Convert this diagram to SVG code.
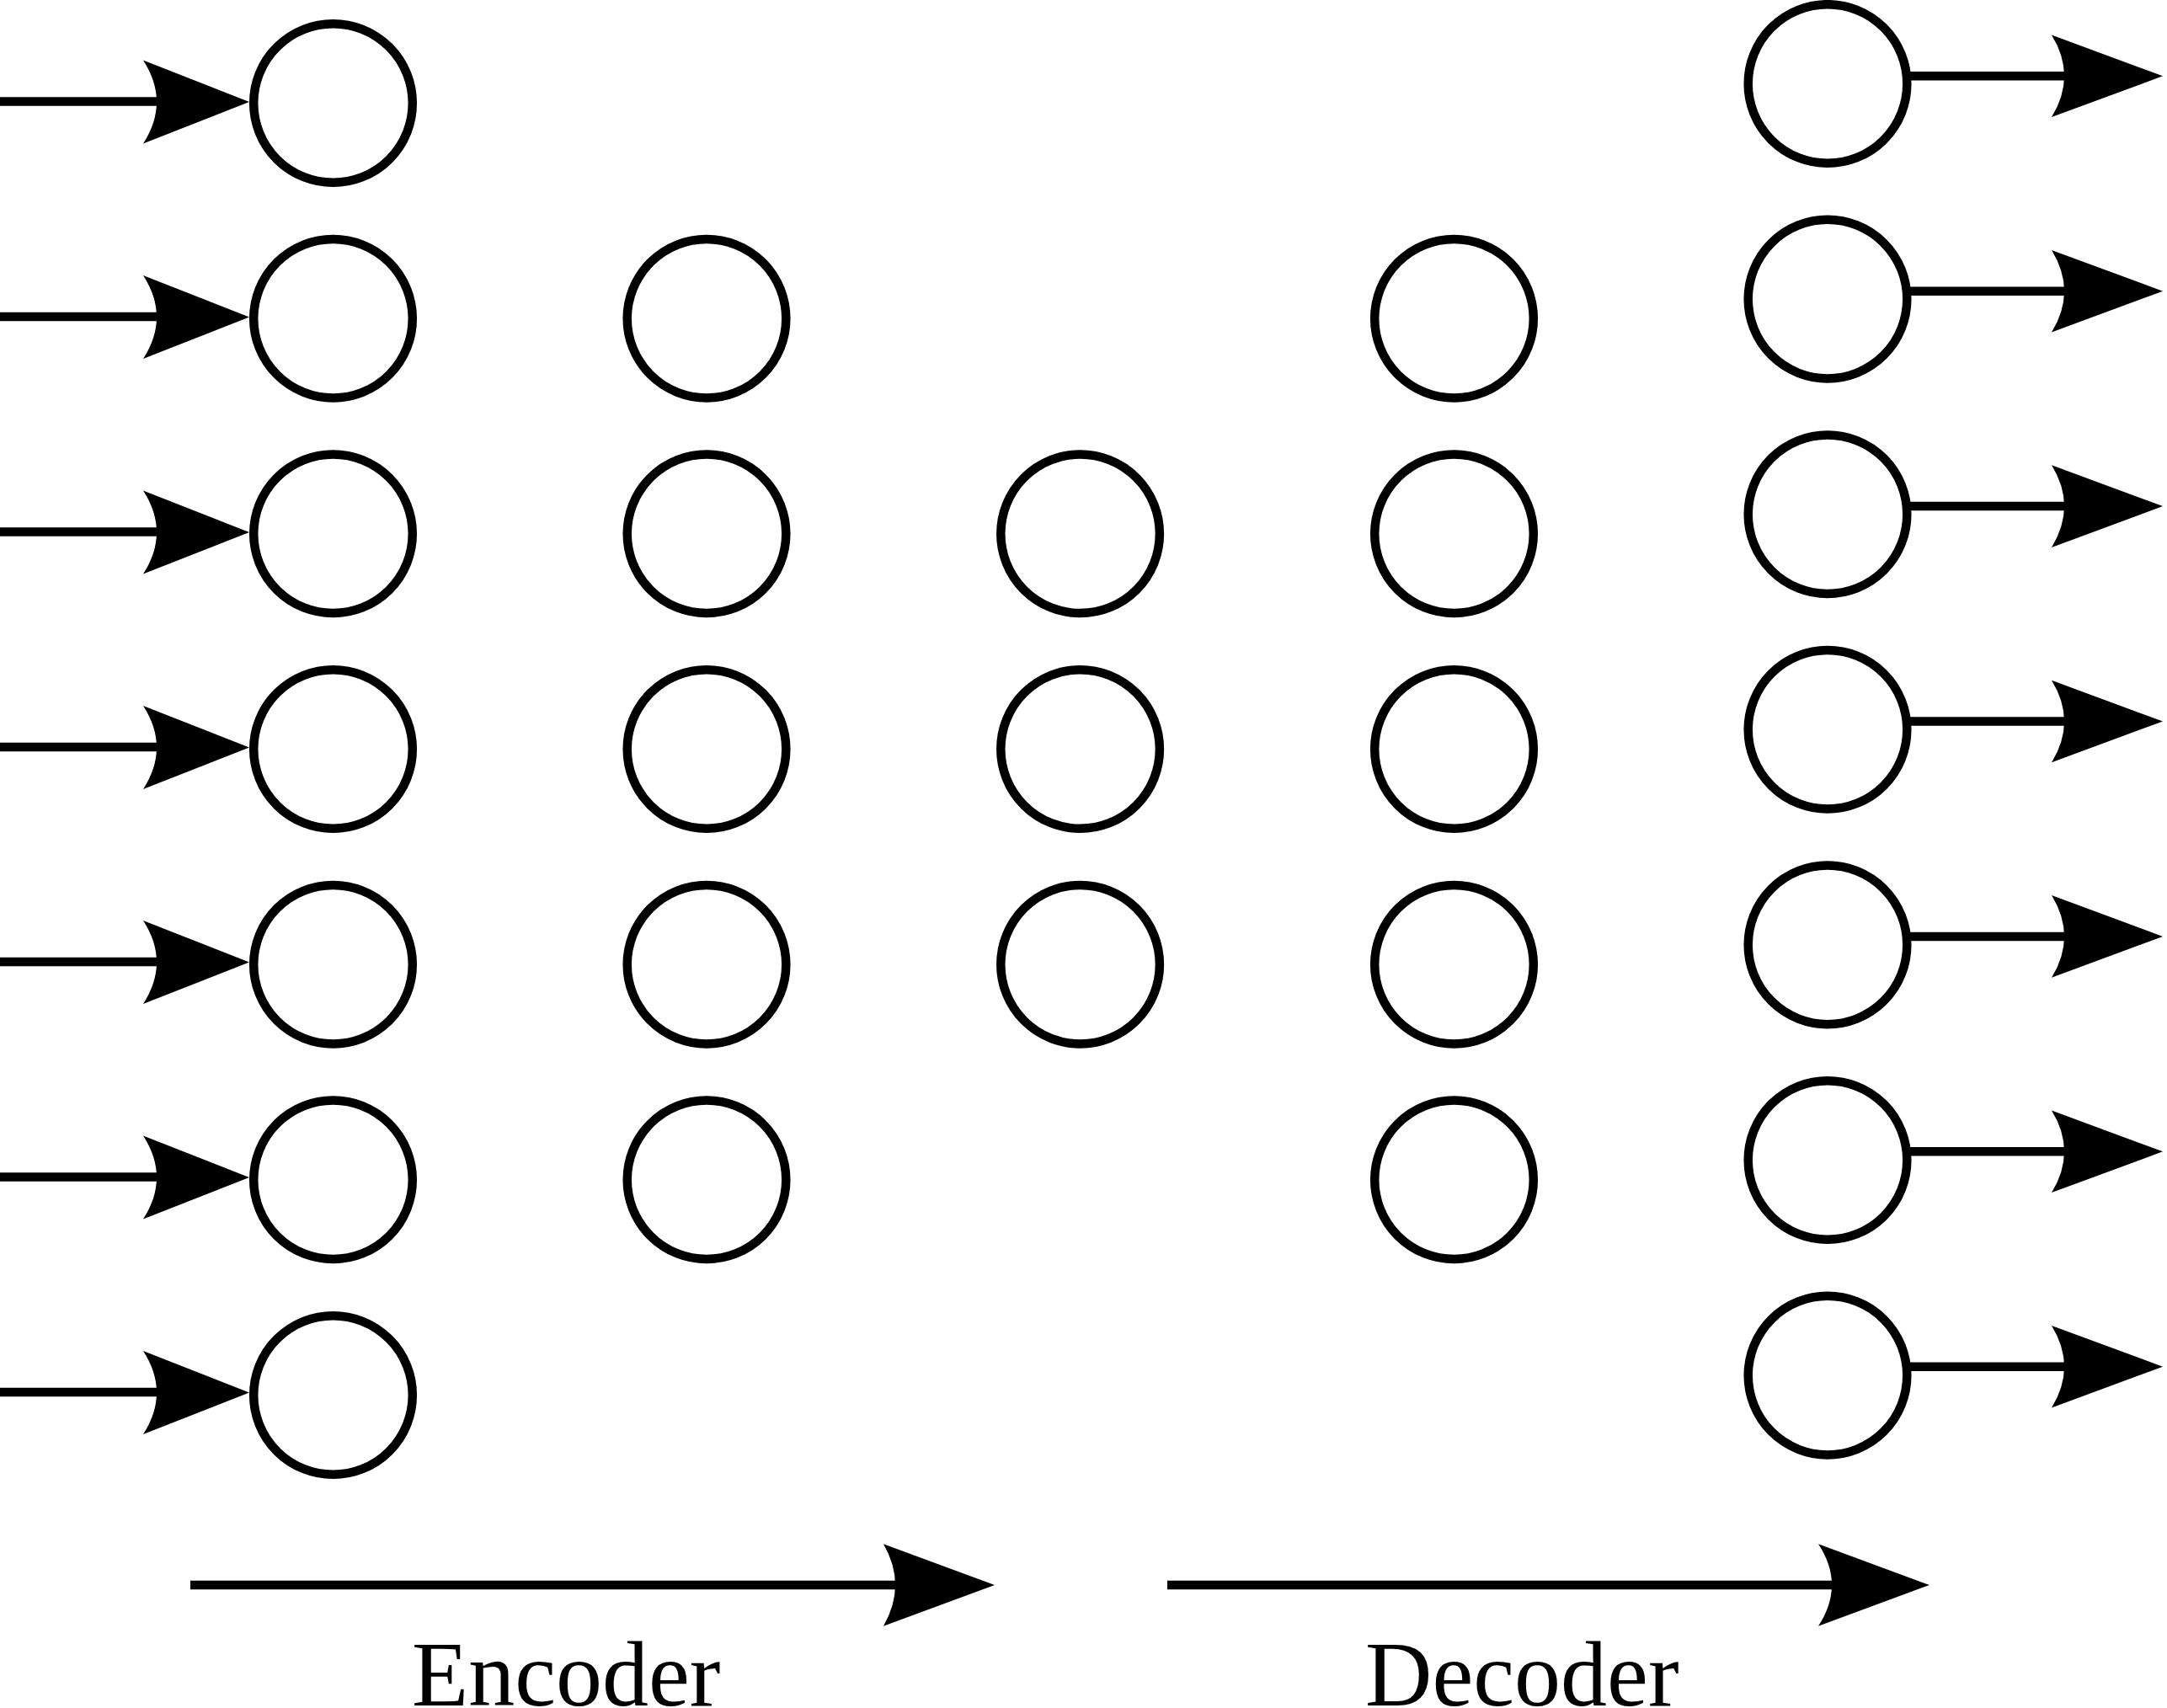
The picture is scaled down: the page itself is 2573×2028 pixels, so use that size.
<svg xmlns="http://www.w3.org/2000/svg" width="2573" height="2028" viewBox="0 0 2573 2028">
<style>
.n{fill:#fff;stroke:#000;stroke-width:10.5}
.l{stroke:#000;stroke-width:10.5;fill:none}
.h{fill:#000;stroke:none}
.t{font-family:"Liberation Serif","Times New Roman",serif;font-size:110px;fill:#000}
</style>
<rect width="2573" height="2028" fill="#fff"/>
<g id="connectors">
<g id="inputs">
<line class="l" x1="0" y1="120.5" x2="188" y2="120.5"/><path class="h" d="M296 121 L170 71.5 Q202 121 170 170.5 Z"/>
<line class="l" x1="0" y1="376" x2="188" y2="376"/><path class="h" d="M296 376.5 L170 327 Q202 376.5 170 426 Z"/>
<line class="l" x1="0" y1="631.5" x2="188" y2="631.5"/><path class="h" d="M296 632 L170 582.5 Q202 632 170 681.5 Z"/>
<line class="l" x1="0" y1="887" x2="188" y2="887"/><path class="h" d="M296 887.5 L170 838 Q202 887.5 170 937 Z"/>
<line class="l" x1="0" y1="1142" x2="188" y2="1142"/><path class="h" d="M296 1142.5 L170 1093 Q202 1142.5 170 1192 Z"/>
<line class="l" x1="0" y1="1397.5" x2="188" y2="1397.5"/><path class="h" d="M296 1398 L170 1348.5 Q202 1398 170 1447.5 Z"/>
<line class="l" x1="0" y1="1653" x2="188" y2="1653"/><path class="h" d="M296 1653.5 L170 1604 Q202 1653.5 170 1703 Z"/>
</g>
<g id="outputs">
<line class="l" x1="2266" y1="90.3" x2="2453" y2="90.3"/><path class="h" d="M2568 90.3 L2436 41.5 Q2466 90.3 2436 139 Z"/>
<line class="l" x1="2266" y1="345.7" x2="2453" y2="345.7"/><path class="h" d="M2568 345.7 L2436 297 Q2466 345.7 2436 394.5 Z"/>
<line class="l" x1="2266" y1="601.1" x2="2453" y2="601.1"/><path class="h" d="M2568 601.1 L2436 552.3 Q2466 601.1 2436 649.9 Z"/>
<line class="l" x1="2266" y1="856.5" x2="2453" y2="856.5"/><path class="h" d="M2568 856.5 L2436 807.7 Q2466 856.5 2436 905.3 Z"/>
<line class="l" x1="2266" y1="1111.9" x2="2453" y2="1111.9"/><path class="h" d="M2568 1111.9 L2436 1063.1 Q2466 1111.9 2436 1160.7 Z"/>
<line class="l" x1="2266" y1="1367.3" x2="2453" y2="1367.3"/><path class="h" d="M2568 1367.3 L2436 1318.5 Q2466 1367.3 2436 1416.1 Z"/>
<line class="l" x1="2266" y1="1622.7" x2="2453" y2="1622.7"/><path class="h" d="M2568 1622.7 L2436 1573.9 Q2466 1622.7 2436 1671.5 Z"/>
</g>
<g id="encoder-arrow">
<line class="l" x1="226" y1="1882" x2="1066" y2="1882"/><path class="h" d="M1181 1882 L1049 1833.3 Q1077 1882 1049 1930.7 Z"/>
</g>
<g id="decoder-arrow">
<line class="l" x1="1386" y1="1882" x2="2178" y2="1882"/><path class="h" d="M2291 1882 L2159 1833.3 Q2191 1882 2159 1930.7 Z"/>
</g>
</g>
<g id="layer1">
<g id="n1-1"><circle class="n" cx="395.5" cy="122.5" r="94.3"/></g>
<g id="n1-2"><circle class="n" cx="395.5" cy="378.2" r="94.3"/></g>
<g id="n1-3"><circle class="n" cx="395.5" cy="633.8" r="94.3"/></g>
<g id="n1-4"><circle class="n" cx="395.5" cy="889.5" r="94.3"/></g>
<g id="n1-5"><circle class="n" cx="395.5" cy="1145.2" r="94.3"/></g>
<g id="n1-6"><circle class="n" cx="395.5" cy="1400.8" r="94.3"/></g>
<g id="n1-7"><circle class="n" cx="395.5" cy="1656.5" r="94.3"/></g>
</g>
<g id="layer2">
<g id="n2-1"><circle class="n" cx="839" cy="378.2" r="94.3"/></g>
<g id="n2-2"><circle class="n" cx="839" cy="633.8" r="94.3"/></g>
<g id="n2-3"><circle class="n" cx="839" cy="889.5" r="94.3"/></g>
<g id="n2-4"><circle class="n" cx="839" cy="1145.2" r="94.3"/></g>
<g id="n2-5"><circle class="n" cx="839" cy="1400.8" r="94.3"/></g>
</g>
<g id="layer3">
<g id="n3-1"><circle class="n" cx="1282.6" cy="633.8" r="94.3"/></g>
<g id="n3-2"><circle class="n" cx="1282.6" cy="889.5" r="94.3"/></g>
<g id="n3-3"><circle class="n" cx="1282.6" cy="1145.2" r="94.3"/></g>
</g>
<g id="layer4">
<g id="n4-1"><circle class="n" cx="1726.5" cy="378.2" r="94.3"/></g>
<g id="n4-2"><circle class="n" cx="1726.5" cy="633.8" r="94.3"/></g>
<g id="n4-3"><circle class="n" cx="1726.5" cy="889.5" r="94.3"/></g>
<g id="n4-4"><circle class="n" cx="1726.5" cy="1145.2" r="94.3"/></g>
<g id="n4-5"><circle class="n" cx="1726.5" cy="1400.8" r="94.3"/></g>
</g>
<g id="layer5">
<g id="n5-1"><circle class="n" cx="2170" cy="99.5" r="94.3"/></g>
<g id="n5-2"><circle class="n" cx="2170" cy="355.1" r="94.3"/></g>
<g id="n5-3"><circle class="n" cx="2170" cy="610.7" r="94.3"/></g>
<g id="n5-4"><circle class="n" cx="2170" cy="866.3" r="94.3"/></g>
<g id="n5-5"><circle class="n" cx="2170" cy="1121.9" r="94.3"/></g>
<g id="n5-6"><circle class="n" cx="2170" cy="1377.5" r="94.3"/></g>
<g id="n5-7"><circle class="n" cx="2170" cy="1633.1" r="94.3"/></g>
</g>
<g id="labels">
<text class="t" x="489" y="2025">Encoder</text>
<text class="t" x="1621" y="2025">Decoder</text>
</g>
</svg>
